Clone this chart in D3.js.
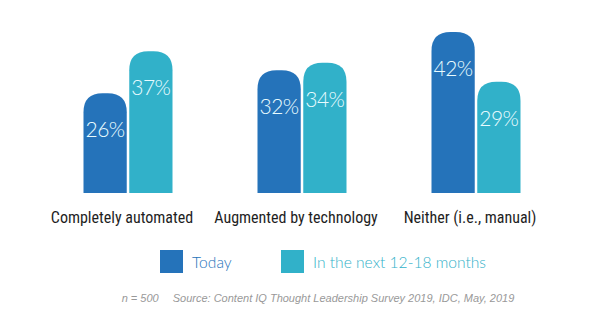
<!DOCTYPE html>
<html>
<head>
<meta charset="utf-8">
<script src="https://cdn.jsdelivr.net/npm/d3@7"></script>
<style>
  html, body { margin: 0; padding: 0; background: #fff; }
</style>
</head>
<body>
<div id="chart"></div>
<script>
const categories = ["Completely automated", "Augmented by technology", "Neither (i.e., manual)"];
const seriesNames = ["Today", "In the next 12-18 months"];
const today = [26, 32, 42];
const nextMonths = [37, 34, 29];
const sourceNote = "Source: Content IQ Thought Leadership Survey 2019, IDC, May, 2019";

const width = 604;
const height = 333;
const colors = ["#2573ba", "#31b1c9"];

const svg = d3.select("#chart")
  .append("svg")
  .attr("width", width)
  .attr("height", height)
  .style("display", "block");

const x0 = d3.scaleBand().domain(categories).range([41, 563]).paddingInner(0).paddingOuter(0);
const x1 = d3.scaleBand().domain(seriesNames).range([0, 89]).paddingInner(0.055);
const y = d3.scaleLinear().domain([0, 42]).range([193, 32]);

const data = categories.map((c, i) => ({
  category: c,
  values: [
    { series: seriesNames[0], value: today[i] },
    { series: seriesNames[1], value: nextMonths[i] }
  ]
}));

function roundedTopBar(x, yTop, w, h, r) {
  r = Math.min(r, w / 2, h);
  return `M${x},${yTop + h}V${yTop + r}Q${x},${yTop} ${x + r},${yTop}H${x + w - r}Q${x + w},${yTop} ${x + w},${yTop + r}V${yTop + h}Z`;
}

const group = svg.selectAll("g.group")
  .data(data)
  .enter()
  .append("g")
  .attr("class", "group")
  .attr("transform", (d) => `translate(${x0(d.category) + (x0.bandwidth() - 89) / 2},0)`);

group.selectAll("path")
  .data((d) => d.values)
  .enter()
  .append("path")
  .attr("fill", (d, i) => colors[i])
  .attr("d", (d) => roundedTopBar(x1(d.series), y(d.value), x1.bandwidth(), y(0) - y(d.value), 19));

group.selectAll("text.val")
  .data((d) => d.values)
  .enter()
  .append("text")
  .attr("class", "val")
  .attr("x", (d) => x1(d.series) + x1.bandwidth() / 2)
  .attr("y", (d) => y(d.value) + 44)
  .attr("text-anchor", "middle")
  .style("font-family", "Lato, 'Open Sans', sans-serif")
  .style("font-weight", 300)
  .style("font-size", "21px")
  .style("letter-spacing", "-0.5px")
  .attr("fill", "#e8fbff")
  .text((d) => d.value + "%");

svg.selectAll("text.cat")
  .data(categories)
  .enter()
  .append("text")
  .attr("class", "cat")
  .attr("x", (d) => x0(d) + x0.bandwidth() / 2 - 6)
  .attr("y", 223)
  .attr("text-anchor", "middle")
  .style("font-family", "'Liberation Sans Narrow', 'Roboto Condensed', 'Liberation Sans', sans-serif")
  .style("font-size", "16px")
  .style("font-weight", 400)
  .attr("fill", "#1e1e1e")
  .text((d) => d);

// legend
const legendX = d3.scalePoint().domain(seriesNames).range([160, 281]);

const legend = svg.selectAll("g.legend")
  .data(seriesNames)
  .enter()
  .append("g")
  .attr("class", "legend")
  .attr("transform", (d) => `translate(${legendX(d)},250)`);

legend.append("rect")
  .attr("width", 23)
  .attr("height", 23)
  .attr("fill", (d, i) => colors[i]);

legend.append("text")
  .attr("x", 32)
  .attr("y", 18)
  .style("font-family", "Lato, 'Open Sans', sans-serif")
  .style("font-weight", 300)
  .style("font-size", "15.6px")
  .attr("fill", (d, i) => colors[i])
  .text((d) => d);

const note = svg.append("text")
  .attr("x", 318)
  .attr("y", 302)
  .attr("text-anchor", "middle")
  .style("font-family", "'Liberation Sans', Arial, sans-serif")
  .style("font-style", "italic")
  .style("font-size", "11px")
  .attr("fill", "#999");
note.append("tspan").text("n = 500");
note.append("tspan").attr("dx", 14).text(sourceNote);
</script>
</body>
</html>
